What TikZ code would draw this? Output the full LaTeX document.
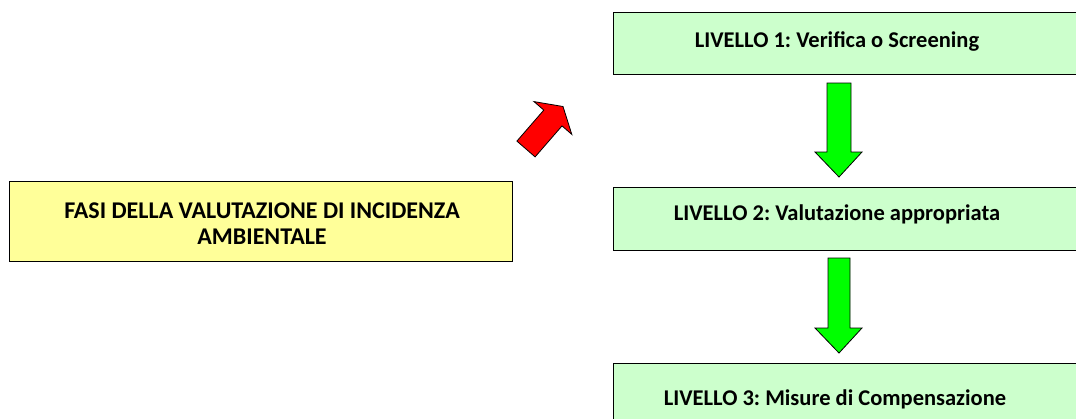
\documentclass[tikz,border=0pt]{standalone}
\usepackage{fontspec}
\setmainfont{Carlito}
\frenchspacing
\definecolor{boxyellow}{RGB}{255,255,153}
\definecolor{boxgreen}{RGB}{204,255,204}
\definecolor{arrgreen}{RGB}{0,255,0}
\definecolor{arrred}{RGB}{255,0,0}
\begin{document}
\begin{tikzpicture}[x=1pt,y=-1pt,
  box/.style={draw=black, line width=1.3pt, inner sep=0pt, anchor=north west},
  ybox/.style={box, fill=boxyellow},
  gbox/.style={box, fill=boxgreen},
  lbl/.style={font=\fontsize{22.5}{26}\selectfont\bfseries, inner sep=0pt, align=center},
  ylbl/.style={lbl, font=\fontsize{24}{26}\selectfont\bfseries},
  blockarrow/.style={draw=black, line width=0.8pt, line join=miter}]
\clip (0,0) rectangle (1076,418);
\fill[white] (0,0) rectangle (1076,418);
% boxes
\node[ybox, minimum width=503pt, minimum height=80pt] (fasi) at (9,181) {};
\node[gbox, minimum width=490pt, minimum height=62pt] (l1) at (613,12) {};
\node[gbox, minimum width=490pt, minimum height=63pt] (l2) at (613,187) {};
\node[gbox, minimum width=490pt, minimum height=63pt] (l3) at (613,363) {};
% texts
\node[ylbl, anchor=base] (fasit) at (262,244) {FASI DELLA VALUTAZIONE DI INCIDENZA\\AMBIENTALE};
\node[lbl, anchor=base] (l1t) at (837,47) {LIVELLO 1: Verifica o Screening};
\node[lbl, anchor=base] (l2t) at (837,220) {LIVELLO 2: Valutazione appropriata};
\node[lbl, anchor=base] (l3t) at (835,405) {LIVELLO 3: Misure di Compensazione};
% green block arrows
\draw[blockarrow, fill=arrgreen] (827,83) -- (851,83) -- (851,152) -- (862,152) -- (839,177) -- (815,152) -- (827,152) -- cycle;
\draw[blockarrow, fill=arrgreen] (828,258) -- (850,258) -- (850,328) -- (862,328) -- (839,353) -- (815,328) -- (828,328) -- cycle;
% red block arrow
\draw[blockarrow, fill=arrred] (516.9,141.1) -- (543.8,110.1) -- (534,101.6) -- (563,106.5) -- (571.8,134.4) -- (562,125.9) -- (535.1,156.9) -- cycle;
\end{tikzpicture}
\end{document}
